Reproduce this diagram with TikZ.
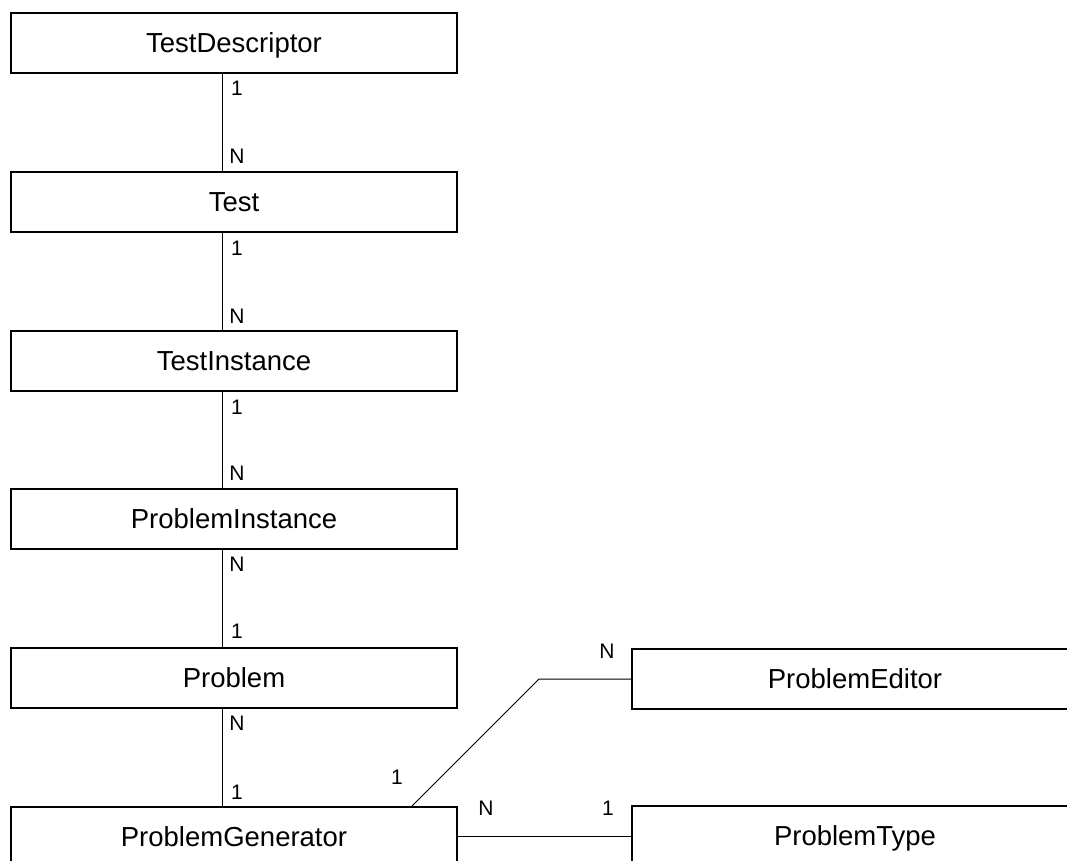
\documentclass[tikz,border=0pt]{standalone}
\usepackage{fontspec}
\setmainfont{Liberation Sans}
\begin{document}
\begin{tikzpicture}[x=1pt,y=-1pt,
  entity/.style={draw, line width=1.8pt, minimum width=446pt, minimum height=60pt,
                 inner sep=0pt, outer sep=0pt, text height=19.7pt, text depth=0pt,
                 font=\fontsize{27.5}{31}\selectfont},
  link/.style={line width=1pt},
  card/.style={font=\fontsize{21}{25}\selectfont, inner sep=0pt}]
\useasboundingbox (0,0) rectangle (1067,861);
\clip (0,0) rectangle (1067,861);

% entities of the left column
\node[entity] (td) at (234,43)  {TestDescriptor};
\node[entity] (t)  at (234,202) {Test};
\node[entity] (ti) at (234,361) {TestInstance};
\node[entity] (pi) at (234,519) {ProblemInstance};
\node[entity] (p)  at (234,678) {Problem};
\node[entity] (pg) at (234,837) {ProblemGenerator};

% entities on the right
\node[entity] (pe) at (855,679) {ProblemEditor};
\node[entity] (pt) at (855,836) {ProblemType};

% helper positions for the connectors
\coordinate (cx) at (222,0);
\coordinate (dx) at (411,0);
\coordinate (bend) at (539,679);

% vertical relationships
\draw[link] (td.south -| cx) -- (t.north -| cx);
\draw[link] (t.south -| cx)  -- (ti.north -| cx);
\draw[link] (ti.south -| cx) -- (pi.north -| cx);
\draw[link] (pi.south -| cx) -- (p.north -| cx);
\draw[link] (p.south -| cx)  -- (pg.north -| cx);

% relationships to the right-hand entities
\draw[link] (pg.north -| dx) -- (bend) -- (pe.west);
\draw[link] (pg.east |- pt.west) -- (pt.west);

% cardinalities
\node[card] (c1)  at (237,88)  {1};
\node[card] (c2)  at (237,156) {N};
\node[card] (c3)  at (237,248) {1};
\node[card] (c4)  at (237,316) {N};
\node[card] (c5)  at (237,407) {1};
\node[card] (c6)  at (237,473) {N};
\node[card] (c7)  at (237,564) {N};
\node[card] (c8)  at (237,631) {1};
\node[card] (c9)  at (237,723) {N};
\node[card] (c10) at (237,792) {1};
\node[card] (c11) at (397,777) {1};
\node[card] (c12) at (607,651) {N};
\node[card] (c13) at (486,808) {N};
\node[card] (c14) at (608,808) {1};
\end{tikzpicture}
\end{document}
